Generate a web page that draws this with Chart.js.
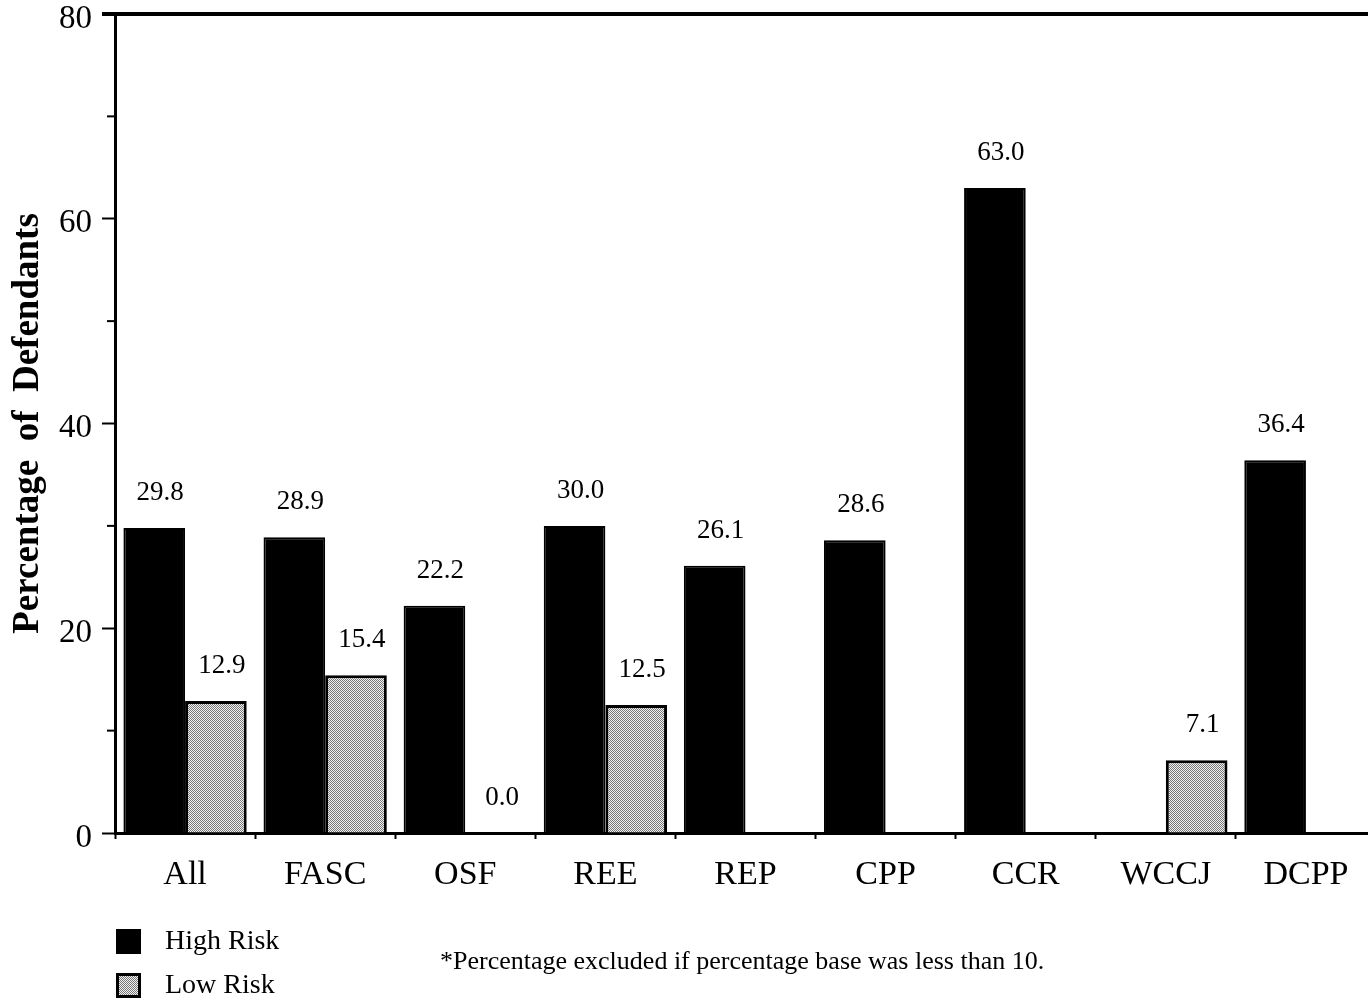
<!DOCTYPE html>
<html>
<head>
<meta charset="utf-8">
<script src="https://cdn.jsdelivr.net/npm/chart.js@4"></script>
<style>
  html, body { margin:0; padding:0; background:#fff; overflow:hidden; }
  #wrap { position:relative; width:1376px; height:1001px; }
</style>
</head>
<body>
<div id="wrap"><canvas id="chart" width="1376" height="1001"></canvas></div>
<script>
// Data
const categories = ['All', 'FASC', 'OSF', 'REE', 'REP', 'CPP', 'CCR', 'WCCJ', 'DCPP'];
const highRisk = [29.8, 28.9, 22.2, 30.0, 26.1, 28.6, 63.0, null, 36.4];
const lowRisk  = [12.9, 15.4, 0.0, 12.5, null, null, null, 7.1, null];
const yTicks = [0, 20, 40, 60, 80];
const seriesNames = ['High Risk', 'Low Risk'];
const yTitle = 'Percentage  of  Defendants';
const footnote = '*Percentage excluded if percentage base was less than 10.';

const serif = '"Liberation Serif", "Times New Roman", serif';
Chart.defaults.font.family = serif;
Chart.defaults.color = '#000';

// Dotted grey fill for the low risk bars
function dotPattern() {
  const c = document.createElement('canvas');
  c.width = 2; c.height = 2;
  const g = c.getContext('2d');
  g.fillStyle = '#f2f2f2'; g.fillRect(0, 0, 2, 2);
  g.fillStyle = '#777'; g.fillRect(0, 0, 1, 1); g.fillRect(1, 1, 1, 1);
  return g.createPattern(c, 'repeat');
}

// Value labels, top rule, minor ticks, legend, footnote
const extras = {
  id: 'extras',
  afterDatasetsDraw(chart) {
    const ctx = chart.ctx;
    ctx.save();
    ctx.font = '27px ' + serif;
    ctx.fillStyle = '#000';
    ctx.textAlign = 'center';
    ctx.textBaseline = 'middle';
    chart.data.datasets.forEach((ds, i) => {
      chart.getDatasetMeta(i).data.forEach((bar, j) => {
        if (ds.data[j] === null) return;
        ctx.fillText(ds.data[j].toFixed(1), bar.x + 6, bar.y - 35);
      });
    });
    ctx.restore();
  },
  afterDraw(chart) {
    const ctx = chart.ctx, a = chart.chartArea, y = chart.scales.y;
    ctx.save();
    ctx.strokeStyle = '#000';

    // top rule
    ctx.lineWidth = 4;
    ctx.beginPath(); ctx.moveTo(102, a.top); ctx.lineTo(chart.width, a.top); ctx.stroke();

    // minor ticks between labelled ones
    ctx.lineWidth = 2;
    for (let k = 0; k < yTicks.length - 1; k++) {
      const py = y.getPixelForValue((yTicks[k] + yTicks[k + 1]) / 2);
      ctx.beginPath(); ctx.moveTo(a.left - 8, py); ctx.lineTo(a.left, py); ctx.stroke();
    }

    // legend
    ctx.font = '28px ' + serif;
    ctx.textAlign = 'left';
    ctx.textBaseline = 'middle';
    chart.data.datasets.forEach((ds, i) => {
      const top = 929 + i * 44;
      ctx.fillStyle = ds.backgroundColor;
      ctx.fillRect(116, top, 25, 25);
      ctx.lineWidth = 3;
      ctx.strokeRect(117.5, top + 1.5, 22, 22);
      ctx.fillStyle = '#000';
      ctx.fillText(ds.label, 165, top + 13);
    });

    // footnote
    ctx.font = '26px ' + serif;
    ctx.fillText(footnote, 440, 962);
    ctx.restore();
  }
};

new Chart(document.getElementById('chart'), {
  type: 'bar',
  data: {
    labels: categories,
    datasets: [
      { label: seriesNames[0], data: highRisk, backgroundColor: '#000', borderColor: '#000', borderWidth: 2 },
      { label: seriesNames[1], data: lowRisk, backgroundColor: dotPattern(), borderColor: '#000', borderWidth: 3 }
    ]
  },
  options: {
    responsive: false,
    animation: false,
    layout: { padding: { top: 14, left: 0, right: 0, bottom: 0 } },
    datasets: { bar: { categoryPercentage: 0.88, barPercentage: 1 } },
    plugins: { legend: { display: false }, tooltip: { enabled: false } },
    scales: {
      x: {
        grid: { drawOnChartArea: false, tickLength: 6, tickWidth: 2, tickColor: '#000', offset: true },
        border: { color: '#000', width: 3 },
        ticks: { font: { size: 34 }, padding: 16, maxRotation: 0, autoSkip: false },
        afterFit: s => { s.height = 168; s.paddingLeft = 0; s.paddingRight = 0; }
      },
      y: {
        min: 0, max: 80,
        afterBuildTicks: s => { s.ticks = yTicks.map(v => ({ value: v })); },
        grid: { drawOnChartArea: false, tickLength: 13, tickWidth: 2, tickColor: '#000' },
        border: { color: '#000', width: 3 },
        ticks: { font: { size: 33 }, padding: 10, labelOffset: 5 },
        title: { display: true, text: yTitle, font: { size: 37, weight: 'bold' }, padding: { top: 6, bottom: 0 } },
        afterFit: s => { s.width = 115; s.paddingTop = 0; s.paddingBottom = 0; }
      }
    }
  },
  plugins: [extras]
});
</script>
</body>
</html>
